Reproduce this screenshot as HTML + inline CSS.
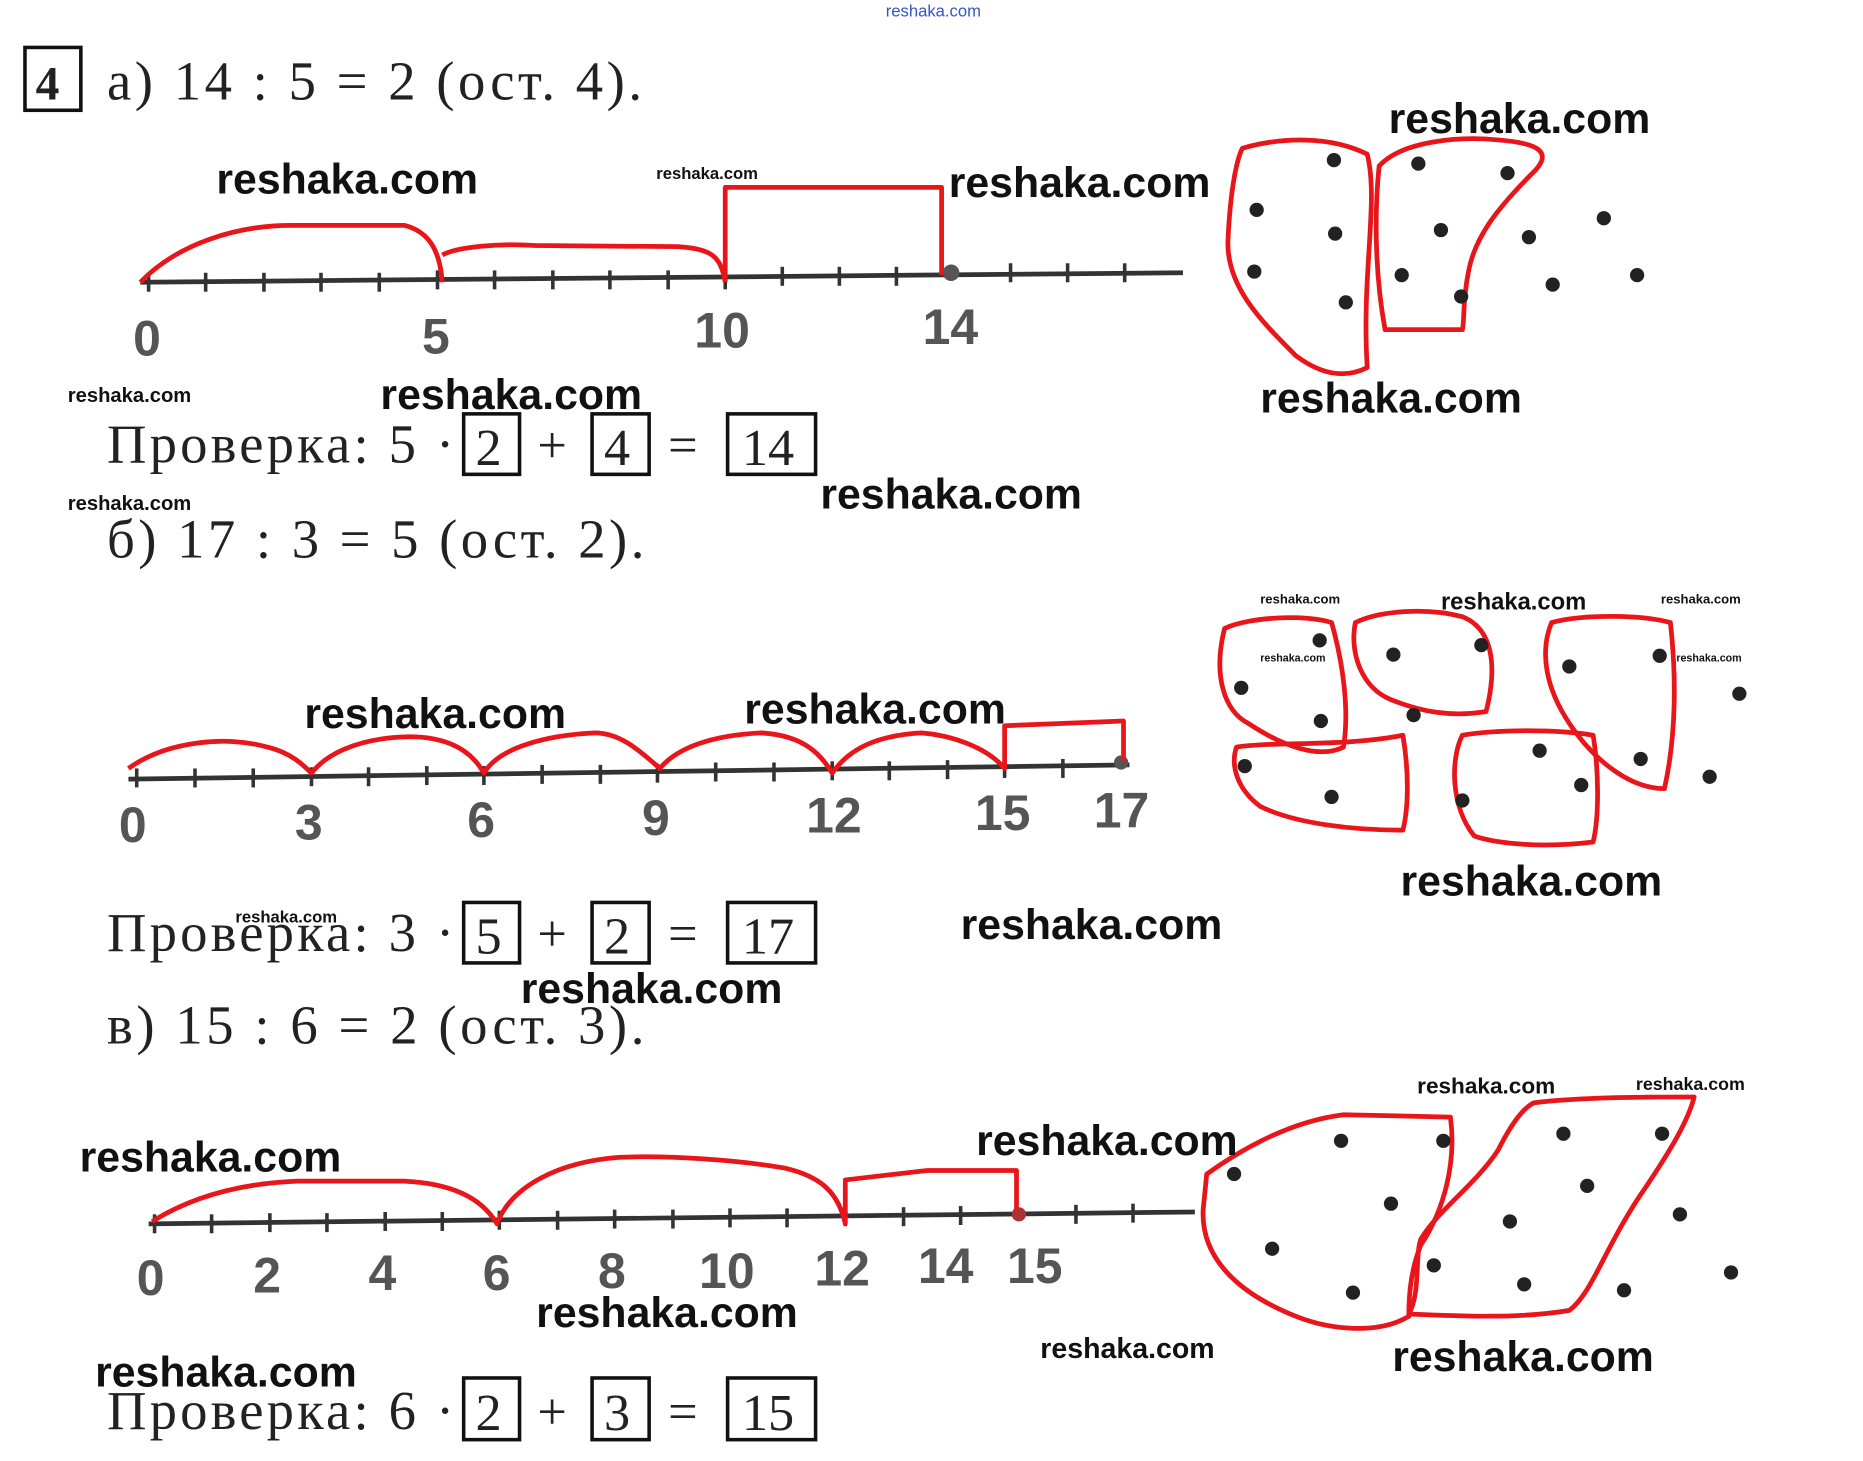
<!DOCTYPE html>
<html><head><meta charset="utf-8"><style>
html,body{margin:0;padding:0;background:#fff;}
svg{display:block}
.s{font-family:"Liberation Serif",serif;fill:#222}
.w{font-family:"Liberation Sans",sans-serif;font-weight:bold;fill:#111}
.n{font-family:"Liberation Sans",sans-serif;font-weight:bold;fill:#555;font-size:42px}
.r{fill:none;stroke:#e8161b;stroke-width:4;stroke-linejoin:round}
.l{stroke:#333;stroke-width:4}
.t{stroke:#333;stroke-width:3}
.b{fill:none;stroke:#111;stroke-width:3}
</style></head><body>
<svg width="1863" height="1461" viewBox="0 0 1567 1232" preserveAspectRatio="none" xmlns="http://www.w3.org/2000/svg">
<text x="745" y="14" font-size="14" font-family="Liberation Sans,sans-serif" fill="#3355cc">reshaka.com</text>
<rect x="21" y="40" width="47" height="53" class="b" stroke-width="4"/>
<text x="30" y="84" font-size="40" font-weight="bold" class="s">4</text>
<text x="90" y="84" font-size="46" class="s" textLength="450" lengthAdjust="spacing">а) 14 : 5 = 2 (ост. 4).</text>
<!-- line a -->
<line x1="118" y1="238" x2="995" y2="230" class="l"/>
<g class="t">
<line x1="125" y1="230" x2="125" y2="246"/><line x1="173" y1="230" x2="173" y2="246"/><line x1="222" y1="230" x2="222" y2="246"/><line x1="270" y1="230" x2="270" y2="246"/><line x1="319" y1="230" x2="319" y2="246"/><line x1="368" y1="228" x2="368" y2="244"/><line x1="416" y1="228" x2="416" y2="244"/><line x1="465" y1="228" x2="465" y2="244"/><line x1="513" y1="228" x2="513" y2="244"/><line x1="562" y1="228" x2="562" y2="244"/><line x1="610" y1="228" x2="610" y2="244"/><line x1="658" y1="225" x2="658" y2="241"/><line x1="706" y1="225" x2="706" y2="241"/><line x1="754" y1="225" x2="754" y2="241"/><line x1="850" y1="222" x2="850" y2="238"/><line x1="898" y1="222" x2="898" y2="238"/><line x1="946" y1="222" x2="946" y2="238"/></g>
<circle cx="800" cy="230" r="7" fill="#555"/>
<text x="112" y="300" class="n">0</text><text x="355" y="298" class="n">5</text><text x="584" y="293" class="n">10</text><text x="776" y="290" class="n">14</text>
<path class="r" d="M118,238 C150,205 200,190 245,190 L340,190 C360,195 370,210 372,238 M372,215 C385,208 420,205 450,207 L570,208 C598,210 606,215 610,238 M610,238 L610,158 L792,158 L792,232"/>
<path class="r" d="M1045,125 C1080,115 1120,115 1150,130 C1160,170 1145,230 1150,310 C1130,320 1110,315 1090,300 C1060,270 1030,240 1033,200 C1035,160 1040,135 1045,125 Z"/>
<path class="r" d="M1160,140 C1180,118 1230,115 1260,118 C1285,120 1310,125 1290,145 C1260,175 1240,200 1235,230 C1230,255 1232,270 1230,278 L1165,278 C1158,240 1155,190 1160,140 Z"/>
<g fill="#222"><circle cx="1122" cy="135" r="6"/><circle cx="1193" cy="138" r="6"/><circle cx="1268" cy="146" r="6"/><circle cx="1057" cy="177" r="6"/><circle cx="1349" cy="184" r="6"/><circle cx="1123" cy="197" r="6"/><circle cx="1212" cy="194" r="6"/><circle cx="1286" cy="200" r="6"/><circle cx="1055" cy="229" r="6"/><circle cx="1179" cy="232" r="6"/><circle cx="1377" cy="232" r="6"/><circle cx="1306" cy="240" r="6"/><circle cx="1229" cy="250" r="6"/><circle cx="1132" cy="255" r="6"/></g>
<text x="1168" y="112" font-size="36" class="w">reshaka.com</text>
<text x="182" y="163" font-size="36" class="w">reshaka.com</text>
<text x="552" y="151" font-size="14" class="w">reshaka.com</text>
<text x="798" y="166" font-size="36" class="w">reshaka.com</text>
<text x="57" y="339" font-size="17" class="w">reshaka.com</text>
<text x="320" y="345" font-size="36" class="w">reshaka.com</text>
<text x="1060" y="348" font-size="36" class="w">reshaka.com</text>
<text x="90" y="390" font-size="46" class="s" textLength="292" lengthAdjust="spacing">Проверка: 5 ·</text>
<rect x="390" y="349" width="47" height="51" class="b"/><text x="400" y="392" font-size="44" class="s">2</text>
<text x="452" y="390" font-size="44" class="s">+</text>
<rect x="498" y="349" width="48" height="51" class="b"/><text x="508" y="392" font-size="44" class="s">4</text>
<text x="562" y="390" font-size="44" class="s">=</text>
<rect x="612" y="349" width="74" height="51" class="b"/><text x="624" y="392" font-size="44" class="s">14</text>
<text x="690" y="429" font-size="36" class="w">reshaka.com</text>
<text x="57" y="430" font-size="17" class="w">reshaka.com</text>
<text x="90" y="470" font-size="46" class="s" textLength="452" lengthAdjust="spacing">б) 17 : 3 = 5 (ост. 2).</text>
<!-- line b -->
<line x1="108" y1="657" x2="950" y2="645" class="l"/>
<g class="t">
<line x1="115" y1="648" x2="115" y2="664"/><line x1="164" y1="648" x2="164" y2="664"/><line x1="213" y1="648" x2="213" y2="664"/><line x1="262" y1="647" x2="262" y2="663"/><line x1="310" y1="647" x2="310" y2="663"/><line x1="359" y1="646" x2="359" y2="662"/><line x1="407" y1="646" x2="407" y2="662"/><line x1="456" y1="645" x2="456" y2="661"/><line x1="505" y1="645" x2="505" y2="661"/><line x1="553" y1="644" x2="553" y2="660"/><line x1="602" y1="643" x2="602" y2="659"/><line x1="651" y1="643" x2="651" y2="659"/><line x1="700" y1="642" x2="700" y2="658"/><line x1="748" y1="642" x2="748" y2="658"/><line x1="797" y1="641" x2="797" y2="657"/><line x1="845" y1="640" x2="845" y2="656"/><line x1="894" y1="640" x2="894" y2="656"/></g>
<circle cx="943" cy="643" r="6" fill="#555"/>
<text x="100" y="710" class="n">0</text><text x="248" y="708" class="n">3</text><text x="393" y="706" class="n">6</text><text x="540" y="704" class="n" fill="#888">9</text><text x="678" y="702" class="n">12</text><text x="820" y="700" class="n">15</text><text x="920" y="698" class="n">17</text>
<path class="r" d="M108,648 C140,625 190,620 225,630 C245,635 255,645 262,652 C275,635 300,625 330,622 C370,618 395,630 407,652 C420,630 460,620 500,618 C520,618 535,630 555,648 C570,630 600,620 640,618 C675,620 690,635 700,652 C715,630 740,620 775,618 C800,620 830,630 845,648 L845,612 L945,608 L945,642"/>
<path class="r" d="M1030,530 C1050,520 1100,518 1120,525 C1130,560 1135,600 1130,630 C1110,640 1080,630 1050,610 C1030,600 1020,570 1030,530 Z"/>
<path class="r" d="M1140,525 C1160,515 1200,512 1230,520 C1255,530 1260,560 1250,600 C1220,605 1195,600 1170,590 C1145,580 1135,550 1140,525 Z"/>
<path class="r" d="M1305,525 C1330,518 1380,518 1405,525 C1410,570 1410,620 1400,665 C1370,665 1340,640 1320,610 C1300,580 1295,550 1305,525 Z"/>
<path class="r" d="M1040,630 C1070,625 1130,630 1180,620 C1185,650 1185,680 1180,700 C1140,700 1090,695 1060,680 C1040,665 1035,645 1040,630 Z"/>
<path class="r" d="M1230,620 C1260,615 1310,615 1340,620 C1345,650 1345,690 1340,710 C1300,715 1260,712 1240,705 C1220,680 1220,640 1230,620 Z"/>
<g fill="#222"><circle cx="1110" cy="540" r="6"/><circle cx="1172" cy="552" r="6"/><circle cx="1246" cy="544" r="6"/><circle cx="1320" cy="562" r="6"/><circle cx="1396" cy="553" r="6"/><circle cx="1044" cy="580" r="6"/><circle cx="1463" cy="585" r="6"/><circle cx="1111" cy="608" r="6"/><circle cx="1189" cy="603" r="6"/><circle cx="1295" cy="633" r="6"/><circle cx="1380" cy="640" r="6"/><circle cx="1047" cy="646" r="6"/><circle cx="1438" cy="655" r="6"/><circle cx="1120" cy="672" r="6"/><circle cx="1230" cy="675" r="6"/><circle cx="1330" cy="662" r="6"/></g>
<text x="1060" y="509" font-size="11" class="w">reshaka.com</text>
<text x="1212" y="514" font-size="20" class="w">reshaka.com</text>
<text x="1397" y="509" font-size="11" class="w">reshaka.com</text>
<text x="1060" y="558" font-size="9" class="w">reshaka.com</text>
<text x="1410" y="558" font-size="9" class="w">reshaka.com</text>
<text x="256" y="614" font-size="36" class="w">reshaka.com</text>
<text x="626" y="610" font-size="36" class="w">reshaka.com</text>
<text x="1178" y="755" font-size="36" class="w">reshaka.com</text>
<text x="90" y="802" font-size="46" class="s" textLength="292" lengthAdjust="spacing">Проверка: 3 ·</text>
<text x="198" y="778" font-size="14" class="w">reshaka.com</text>
<rect x="390" y="761" width="47" height="51" class="b"/><text x="400" y="804" font-size="44" class="s">5</text>
<text x="452" y="802" font-size="44" class="s">+</text>
<rect x="498" y="761" width="48" height="51" class="b"/><text x="508" y="804" font-size="44" class="s">2</text>
<text x="562" y="802" font-size="44" class="s">=</text>
<rect x="612" y="761" width="74" height="51" class="b"/><text x="624" y="804" font-size="44" class="s">17</text>
<text x="808" y="792" font-size="36" class="w">reshaka.com</text>
<text x="438" y="846" font-size="36" class="w">reshaka.com</text>
<text x="90" y="880" font-size="46" class="s" textLength="452" lengthAdjust="spacing">в) 15 : 6 = 2 (ост. 3).</text>
<!-- line c -->
<line x1="125" y1="1032" x2="1005" y2="1022" class="l"/>
<g class="t">
<line x1="130" y1="1024" x2="130" y2="1040"/><line x1="178" y1="1024" x2="178" y2="1040"/><line x1="227" y1="1023" x2="227" y2="1039"/><line x1="275" y1="1023" x2="275" y2="1039"/><line x1="324" y1="1022" x2="324" y2="1038"/><line x1="372" y1="1022" x2="372" y2="1038"/><line x1="420" y1="1021" x2="420" y2="1037"/><line x1="469" y1="1021" x2="469" y2="1037"/><line x1="517" y1="1020" x2="517" y2="1036"/><line x1="566" y1="1020" x2="566" y2="1036"/><line x1="614" y1="1019" x2="614" y2="1035"/><line x1="662" y1="1019" x2="662" y2="1035"/><line x1="711" y1="1018" x2="711" y2="1034"/><line x1="760" y1="1018" x2="760" y2="1034"/><line x1="808" y1="1017" x2="808" y2="1033"/><line x1="905" y1="1016" x2="905" y2="1032"/><line x1="953" y1="1015" x2="953" y2="1031"/></g>
<circle cx="857" cy="1024" r="6" fill="#a33"/>
<text x="115" y="1092" class="n">0</text><text x="213" y="1090" class="n">2</text><text x="310" y="1088" class="n">4</text><text x="406" y="1088" class="n">6</text><text x="503" y="1086" class="n">8</text><text x="588" y="1086" class="n">10</text><text x="685" y="1084" class="n">12</text><text x="772" y="1082" class="n">14</text><text x="847" y="1082" class="n">15</text>
<path class="r" d="M128,1030 C160,1010 200,998 250,996 L340,996 C380,998 405,1010 418,1032 C430,1000 470,980 520,976 C560,974 620,978 660,985 C690,992 705,1005 711,1032 L711,995 L780,987 L855,987 L855,1020"/>
<path class="r" d="M1015,990 C1050,965 1090,945 1130,940 L1220,942 C1225,980 1215,1020 1195,1050 C1185,1075 1185,1100 1185,1110 C1160,1125 1120,1122 1090,1110 C1040,1090 1010,1060 1012,1020 Z"/>
<path class="r" d="M1290,930 C1330,925 1390,925 1425,925 C1420,945 1405,970 1385,1000 C1350,1050 1340,1090 1320,1105 C1280,1112 1230,1110 1185,1108 C1195,1090 1190,1060 1195,1045 C1210,1020 1240,1000 1260,970 C1270,950 1280,935 1290,930 Z"/>
<g fill="#222"><circle cx="1128" cy="962" r="6"/><circle cx="1214" cy="962" r="6"/><circle cx="1315" cy="956" r="6"/><circle cx="1398" cy="956" r="6"/><circle cx="1038" cy="990" r="6"/><circle cx="1335" cy="1000" r="6"/><circle cx="1170" cy="1015" r="6"/><circle cx="1270" cy="1030" r="6"/><circle cx="1413" cy="1024" r="6"/><circle cx="1070" cy="1053" r="6"/><circle cx="1206" cy="1067" r="6"/><circle cx="1456" cy="1073" r="6"/><circle cx="1282" cy="1083" r="6"/><circle cx="1366" cy="1088" r="6"/><circle cx="1138" cy="1090" r="6"/></g>
<text x="1192" y="922" font-size="19" class="w">reshaka.com</text>
<text x="1376" y="919" font-size="15" class="w">reshaka.com</text>
<text x="67" y="988" font-size="36" class="w">reshaka.com</text>
<text x="821" y="974" font-size="36" class="w">reshaka.com</text>
<text x="451" y="1119" font-size="36" class="w">reshaka.com</text>
<text x="875" y="1145" font-size="24" class="w">reshaka.com</text>
<text x="1171" y="1156" font-size="36" class="w">reshaka.com</text>
<text x="80" y="1169" font-size="36" class="w">reshaka.com</text>
<text x="90" y="1205" font-size="46" class="s" textLength="292" lengthAdjust="spacing">Проверка: 6 ·</text>
<rect x="390" y="1162" width="47" height="52" class="b"/><text x="400" y="1206" font-size="44" class="s">2</text>
<text x="452" y="1205" font-size="44" class="s">+</text>
<rect x="498" y="1162" width="48" height="52" class="b"/><text x="508" y="1206" font-size="44" class="s">3</text>
<text x="562" y="1205" font-size="44" class="s">=</text>
<rect x="612" y="1162" width="74" height="52" class="b"/><text x="624" y="1206" font-size="44" class="s">15</text>
</svg>
</body></html>
